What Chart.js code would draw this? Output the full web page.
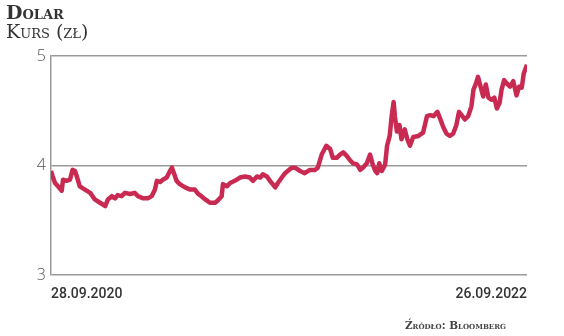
<!DOCTYPE html>
<html>
<head>
<meta charset="utf-8">
<script src="https://cdn.jsdelivr.net/npm/chart.js@4"></script>
<style>
  body { margin: 0; background: #fff; }
  #wrap { position: relative; width: 564px; height: 336px; }
  #title { position: absolute; left: 6px; top: 2px; font-family: "DejaVu Serif", serif; font-variant: small-caps; color: #333; }
  #title .t1 { font-weight: bold; font-size: 19px; line-height: 20px; }
  #title .t2 { font-size: 19px; line-height: 18px; }
  #source { position: absolute; right: 58px; top: 319px; font-family: "DejaVu Serif", serif; font-variant: small-caps; font-weight: bold; font-size: 10.5px; color: #444; }
</style>
</head>
<body>
<div id="wrap">
  <canvas id="chart" width="564" height="336"></canvas>
  <div id="title"><div class="t1">Dolar</div><div class="t2">Kurs (zł)</div></div>
  <div id="source">Źródło: Bloomberg</div>
</div>
<script>
// days since 28.09.2020
const days = [0, 2.6, 6.1, 10.7, 16.4, 18.4, 24, 29, 33, 36.7, 40, 44, 52, 60, 67, 75, 83, 87, 93, 98,
  102, 108, 113, 121, 128, 133, 141, 148, 154, 159, 162, 167, 171, 177, 182, 185, 188, 192, 197, 205,
  213, 220, 225, 230, 236, 243, 251, 255, 261, 263, 269, 274, 281, 289, 297, 304, 309, 315, 320, 324,
  330, 335, 343, 347, 353, 358, 362, 368, 373, 381, 388, 396, 404, 408, 414, 421, 427, 431, 437, 442,
  447, 452, 457, 462, 468, 473, 477, 483, 488, 492, 496, 499, 502, 506, 511, 514, 518, 521, 524, 526,
  529, 533, 536, 541, 545, 549, 554, 562, 569, 575, 580, 585, 591, 595, 600, 605, 610, 615, 620, 624,
  628, 633, 638, 643, 646, 650, 653, 657, 661, 665, 669, 674, 678, 682, 686, 689, 693, 697, 702, 707,
  712, 716, 720, 723, 728];
const usdPln = [3.95, 3.90, 3.84, 3.81, 3.77, 3.87, 3.86, 3.87, 3.96, 3.95, 3.89, 3.81, 3.78, 3.75, 3.69, 3.66, 3.63, 3.69, 3.72, 3.70,
  3.73, 3.72, 3.75, 3.74, 3.75, 3.72, 3.70, 3.70, 3.72, 3.78, 3.86, 3.85, 3.87, 3.89, 3.95, 3.98, 3.93, 3.86, 3.83, 3.80,
  3.78, 3.78, 3.74, 3.72, 3.69, 3.66, 3.66, 3.68, 3.72, 3.83, 3.81, 3.84, 3.86, 3.89, 3.90, 3.89, 3.86, 3.90, 3.89, 3.92,
  3.90, 3.86, 3.80, 3.84, 3.89, 3.93, 3.95, 3.98, 3.98, 3.95, 3.93, 3.96, 3.96, 3.98, 4.10, 4.18, 4.15, 4.07, 4.07, 4.10,
  4.12, 4.09, 4.05, 4.02, 4.01, 3.96, 3.98, 4.02, 4.10, 4.01, 3.95, 3.93, 4.02, 3.95, 4.01, 4.18, 4.27, 4.45, 4.58, 4.45,
  4.31, 4.37, 4.24, 4.33, 4.24, 4.18, 4.26, 4.27, 4.30, 4.45, 4.46, 4.45, 4.49, 4.43, 4.35, 4.29, 4.27, 4.29, 4.37, 4.49,
  4.46, 4.42, 4.45, 4.54, 4.69, 4.75, 4.81, 4.72, 4.63, 4.74, 4.62, 4.60, 4.62, 4.52, 4.57, 4.69, 4.78, 4.75, 4.72, 4.77,
  4.64, 4.72, 4.71, 4.84, 4.92];
const dateLabels = ['28.09.2020', '26.09.2022'];
const yTicks = [3, 4, 5];

const points = days.map((d, i) => ({ x: d, y: usdPln[i] }));

new Chart(document.getElementById('chart').getContext('2d'), {
  type: 'line',
  data: {
    datasets: [{
      data: points,
      borderColor: '#c92a52',
      borderWidth: 4.5,
      pointRadius: 0,
      tension: 0,
      borderJoinStyle: 'round',
      fill: false
    }]
  },
  options: {
    responsive: false,
    animation: false,
    layout: { padding: { top: 56, right: 37, left: 0, bottom: 0 } },
    plugins: { legend: { display: false }, tooltip: { enabled: false } },
    scales: {
      x: {
        type: 'linear',
        min: 0,
        max: days[days.length - 1],
        afterFit: (s) => { s.height = 61; },
        afterBuildTicks: (s) => { s.ticks = [{ value: 0 }, { value: s.max }]; },
        grid: { display: false },
        border: { display: false },
        ticks: {
          align: 'inner',
          maxRotation: 0,
          padding: 3,
          color: '#333',
          font: { family: 'Roboto', size: 14, weight: '500' },
          callback: (v, i) => dateLabels[i]
        }
      },
      y: {
        min: 3,
        max: 5,
        afterFit: (s) => { s.width = 51; },
        afterBuildTicks: (s) => { s.ticks = yTicks.map(v => ({ value: v })); },
        grid: { color: '#9a9a9a', lineWidth: 1.5, drawTicks: false },
        border: { display: true, color: '#9a9a9a', width: 1.5 },
        ticks: {
          padding: 5,
          color: '#555',
          font: { family: 'Open Sans', size: 16, weight: '300' }
        }
      }
    }
  }
});
</script>
</body>
</html>
